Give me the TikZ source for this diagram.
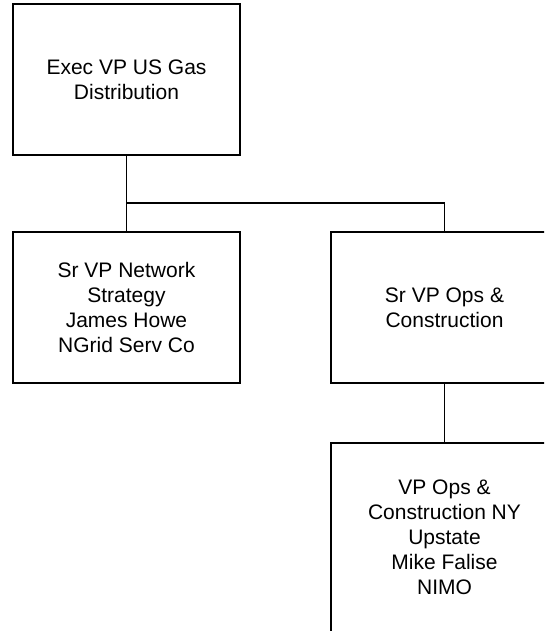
\documentclass[tikz,border=0pt]{standalone}
\usepackage{fontspec}
\setmainfont{Liberation Sans}
\begin{document}
\begin{tikzpicture}[x=1pt,y=1pt,
  orgbox/.style={draw=black, line width=1.6pt, fill=white, rectangle, inner sep=0pt,
    minimum width=227pt, minimum height=151pt, align=center,
    font=\fontsize{21}{25}\selectfont},
  link/.style={draw=black, line width=1.6pt}]
\useasboundingbox (0,0) rectangle (544,-631);
\clip (0,0) rectangle (544,-631);
\node[orgbox] (exec) at (126.5,-79.5) {Exec VP US Gas\\Distribution};
\node[orgbox] (left) at (126.5,-307.5) {Sr VP Network\\Strategy\\James Howe\\NGrid Serv Co};
\node[orgbox] (right) at (444.5,-307.5) {Sr VP Ops \&\\Construction};
\node[orgbox, minimum height=189pt] (bottom) at (444.5,-537.5) {VP Ops \&\\Construction NY\\Upstate\\Mike Falise\\NIMO};
\coordinate (j1) at (126.5,-203);
\draw[link] (exec.south) -- (j1) -| (right.north);
\draw[link] (j1) -- (left.north);
\draw[link] (right.south) -- (bottom.north);
\end{tikzpicture}
\end{document}
